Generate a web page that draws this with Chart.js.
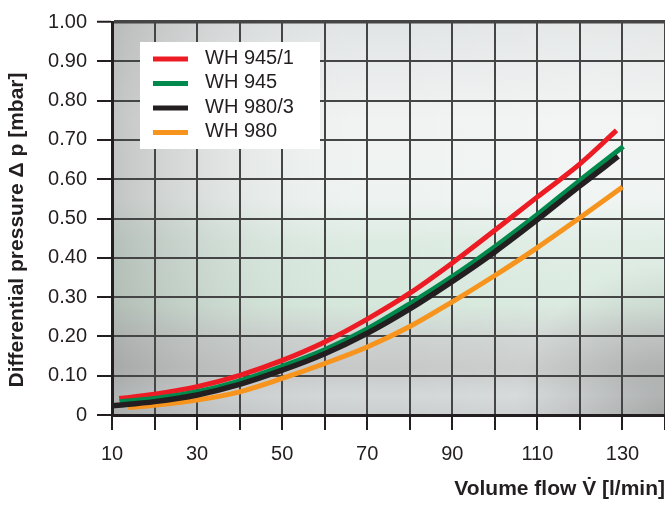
<!DOCTYPE html>
<html>
<head>
  <title>Differential pressure vs volume flow</title>
  <script src="https://cdn.jsdelivr.net/npm/chart.js"></script>
  <style>
    html, body { margin: 0; padding: 0; background: #fff; }
    canvas { display: block; }
  </style>
</head>
<body>
  <canvas id="pressureChart" width="665" height="505"></canvas>

  <script>
    // Series (flow in l/min, pressure in mbar)
    const seriesLabels = ['WH 945/1', 'WH 945', 'WH 980/3', 'WH 980'];
    const seriesColors = ['#ed1c24', '#00894c', '#231f20', '#f7941d'];

    const flowWh9451 = [11.7, 20, 30, 40, 50, 60, 70, 80, 90, 100, 110, 120, 128.6];
    const dpWh9451 = [0.042, 0.053, 0.072, 0.101, 0.139, 0.186, 0.244, 0.310, 0.387, 0.470, 0.555, 0.639, 0.724];

    const flowWh945 = [11.8, 20, 30, 40, 50, 60, 70, 80, 90, 100, 110, 120, 130.2];
    const dpWh945 = [0.034, 0.042, 0.059, 0.087, 0.124, 0.166, 0.219, 0.283, 0.352, 0.428, 0.510, 0.597, 0.683];

    const flowWh9803 = [10, 20, 30, 40, 50, 60, 70, 80, 90, 100, 110, 120, 129];
    const dpWh9803 = [0.023, 0.034, 0.051, 0.078, 0.114, 0.156, 0.208, 0.270, 0.340, 0.415, 0.497, 0.583, 0.658];

    const flowWh980 = [13.8, 20, 30, 40, 50, 60, 70, 80, 90, 100, 110, 120, 130];
    const dpWh980 = [0.019, 0.025, 0.038, 0.059, 0.093, 0.131, 0.173, 0.225, 0.288, 0.355, 0.426, 0.502, 0.580];

    // Axis ticks
    const flowTickLabels = [10, 30, 50, 70, 90, 110, 130];
    const flowMin = 10, flowMax = 140, flowStep = 10;
    const dpMin = 0, dpMax = 1, dpStep = 0.1;

    const xTitle = 'Volume flow V\u0307 [l/min]';
    const yTitle = 'Differential pressure \u0394 p [mbar]';

    function toPoints(xs, ys) {
      return xs.map((x, i) => ({ x: x, y: ys[i] }));
    }

    const flows = [flowWh9451, flowWh945, flowWh9803, flowWh980];
    const pressures = [dpWh9451, dpWh945, dpWh9803, dpWh980];
    // draw order: black on top, then green, red, orange
    const drawOrder = [2, 1, 0, 3];

    const datasets = seriesLabels.map((label, i) => ({
      label: label,
      data: toPoints(flows[i], pressures[i]),
      borderColor: seriesColors[i],
      backgroundColor: seriesColors[i],
      borderWidth: i === 2 ? 5.5 : 5,
      pointRadius: 0,
      cubicInterpolationMode: 'monotone',
      fill: false,
      order: drawOrder[i]
    }));

    // photo-like backdrop behind the grid
    const backdrop = {
      id: 'backdrop',
      beforeDraw(chart) {
        const { ctx, chartArea: a } = chart;
        ctx.save();
        ctx.fillStyle = '#ffffff';
        ctx.fillRect(0, 0, chart.width, chart.height);

        const v = ctx.createLinearGradient(0, a.top, 0, a.bottom);
        v.addColorStop(0.00, '#e2e5e5');
        v.addColorStop(0.25, '#f1f3f3');
        v.addColorStop(0.45, '#eef3f1');
        v.addColorStop(0.56, '#dcebe2');
        v.addColorStop(0.72, '#d5e7db');
        v.addColorStop(0.80, '#cdd3d0');
        v.addColorStop(0.88, '#c6c8c8');
        v.addColorStop(0.95, '#d3d7d7');
        v.addColorStop(1.00, '#cbcece');
        ctx.fillStyle = v;
        ctx.fillRect(a.left, a.top, a.right - a.left, a.bottom - a.top);

        const h = ctx.createLinearGradient(a.left, 0, a.right, 0);
        h.addColorStop(0.00, 'rgba(110,110,110,0.35)');
        h.addColorStop(0.25, 'rgba(150,150,150,0.10)');
        h.addColorStop(0.50, 'rgba(255,255,255,0)');
        h.addColorStop(0.85, 'rgba(255,255,255,0.15)');
        h.addColorStop(1.00, 'rgba(255,255,255,0.10)');
        ctx.fillStyle = h;
        ctx.fillRect(a.left, a.top, a.right - a.left, a.bottom - a.top);

        const r = ctx.createRadialGradient(a.right, a.bottom, 0, a.right, a.bottom, 150);
        r.addColorStop(0, 'rgba(90,90,90,0.35)');
        r.addColorStop(1, 'rgba(90,90,90,0)');
        ctx.fillStyle = r;
        ctx.fillRect(a.left, a.top, a.right - a.left, a.bottom - a.top);
        ctx.restore();
      }
    };

    // legend box inside the plot, plus the rotated y title
    const extras = {
      id: 'extras',
      afterDatasetsDraw(chart) {
        const ctx = chart.ctx;
        ctx.save();
        ctx.fillStyle = '#ffffff';
        ctx.fillRect(140, 42, 180, 107);
        ctx.font = '20px "Liberation Sans", Arial, sans-serif';
        ctx.textBaseline = 'middle';
        ctx.textAlign = 'left';
        seriesLabels.forEach((label, i) => {
          const y = 59 + i * 24.5;
          ctx.strokeStyle = seriesColors[i];
          ctx.lineWidth = 5;
          ctx.beginPath();
          ctx.moveTo(153, y);
          ctx.lineTo(188, y);
          ctx.stroke();
          ctx.fillStyle = '#231f20';
          ctx.fillText(label, 205, y - 1);
        });
        ctx.restore();
      },
      afterDraw(chart) {
        const ctx = chart.ctx;
        ctx.save();
        ctx.translate(17, 230);
        ctx.rotate(-Math.PI / 2);
        ctx.font = 'bold 21px "Liberation Sans", Arial, sans-serif';
        ctx.fillStyle = '#231f20';
        ctx.textAlign = 'center';
        ctx.textBaseline = 'middle';
        ctx.fillText(yTitle, 0, 0);
        ctx.restore();
      }
    };

    new Chart(document.getElementById('pressureChart'), {
      type: 'line',
      data: { datasets: datasets },
      plugins: [backdrop, extras],
      options: {
        responsive: false,
        devicePixelRatio: 1,
        animation: false,
        layout: { padding: { top: 20, right: 0, left: 0, bottom: 0 } },
        plugins: {
          legend: { display: false },
          tooltip: { enabled: false }
        },
        scales: {
          x: {
            type: 'linear',
            min: flowMin,
            max: flowMax,
            afterFit: s => {
              s.height = 90;
              s.paddingRight = 0;
              s.paddingLeft = 0;
            },
            afterBuildTicks: s => {
              s.ticks = [];
              for (let v = flowMin; v <= flowMax; v += flowStep) s.ticks.push({ value: v });
            },
            ticks: {
              autoSkip: false,
              maxRotation: 0,
              padding: 12,
              color: '#231f20',
              font: { family: '"Liberation Sans", Arial, sans-serif', size: 20 },
              callback: v => flowTickLabels.includes(v) ? String(v) : ''
            },
            grid: {
              color: '#454545',
              lineWidth: 2,
              tickLength: 15,
              tickColor: '#231f20',
              tickWidth: 2
            },
            border: { color: '#231f20', width: 3 },
            title: {
              display: true,
              text: xTitle,
              align: 'end',
              color: '#231f20',
              padding: { top: 0, bottom: 3 },
              font: { family: '"Liberation Sans", Arial, sans-serif', size: 21, weight: 'bold' }
            }
          },
          y: {
            min: dpMin,
            max: dpMax,
            afterFit: s => { s.width = 112; },
            ticks: {
              stepSize: dpStep,
              padding: 10,
              color: '#231f20',
              font: { family: '"Liberation Sans", Arial, sans-serif', size: 20 },
              callback: v => (Math.abs(v) < 1e-9 ? '0' : v.toFixed(2))
            },
            grid: {
              color: '#454545',
              lineWidth: c => (c.tick && Math.abs(c.tick.value - dpMax) < 1e-9 ? 3.5 : 2),
              tickLength: 15,
              tickColor: '#231f20',
              tickWidth: 2
            },
            border: { color: '#231f20', width: 3 }
          }
        }
      }
    });
  </script>
</body>
</html>
